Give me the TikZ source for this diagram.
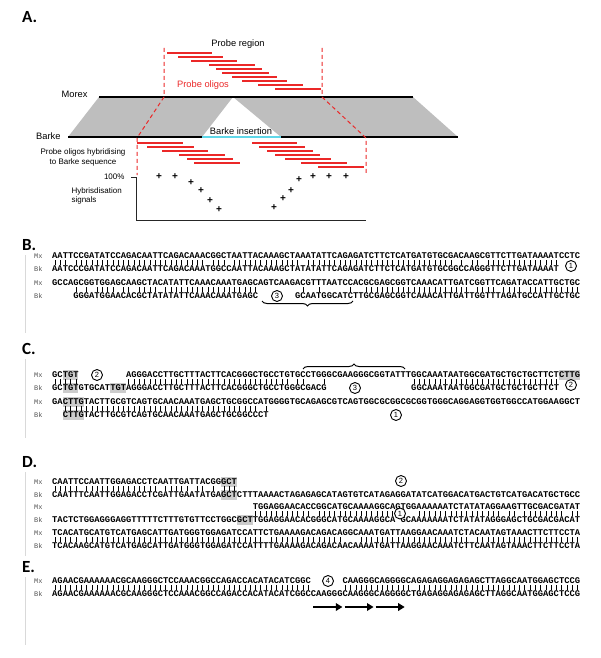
\documentclass[tikz,border=0pt]{standalone}
\usepackage{fontspec}
\setmainfont{Liberation Sans}
\newfontfamily\seqfont{Liberation Mono}
\newfontfamily\panelfont{Carlito}
\usetikzlibrary{arrows.meta,decorations.pathreplacing}
\definecolor{oligored}{RGB}{235,40,40}
\definecolor{bandgrey}{RGB}{190,190,190}
\definecolor{insertcyan}{RGB}{95,215,232}

\newcommand\matchbar{\vrule width 0.6pt height 2.6pt depth 2.6pt}
\ExplSyntaxOn
\str_new:N \l_dna_a_str
\str_new:N \l_dna_b_str
\NewDocumentCommand \dna { m }
  {
    \str_set:Nx \l_dna_a_str {#1}
    \str_map_inline:Nn \l_dna_a_str
      { \hbox_to_wd:nn { 5.28pt } { \hss \str_if_eq:nnF {##1} { . } {##1} \hss } }
  }
\NewDocumentCommand \pairbars { m m }
  {
    \str_set:Nx \l_dna_a_str {#1}
    \str_set:Nx \l_dna_b_str {#2}
    \int_step_inline:nn { \str_count:N \l_dna_a_str }
      {
        \hbox_to_wd:nn { 5.28pt }
          {
            \hss
            \bool_if:nT
              {
                \str_if_eq_p:ee { \str_item:Nn \l_dna_a_str {##1} } { \str_item:Nn \l_dna_b_str {##1} }
                && ! \str_if_eq_p:ee { \str_item:Nn \l_dna_a_str {##1} } { . }
              }
              { \matchbar }
            \hss
          }
      }
  }
\ExplSyntaxOff

\newcommand\bmxa{AATTCCGATATCCAGACAATTCAGACAAACGGCTAATTACAAAGCTAAATATTCAGAGATCTTCTCATGATGTGCGACAAGCGTTCTTGATAAAATCCTC}
\newcommand\bbka{AATCCCGATATCCAGACAATTCAGACAAATGGCCAATTACAAAGCTATATATTCAGAGATCTTCTCATGATGTGCGGCCAGGGTTCTTGATAAAAT}
\newcommand\bmxb{GCCAGCGGTGGAGCAAGCTACATATTCAAACAAATGAGCAGTCAAGACGTTTAATCCACGCGAGCGGTCAAACATTGATCGGTTCAGATACCATTGCTGC}
\newcommand\bbkb{....GGGATGGAACACGCTATATATTCAAACAAATGAGC.......GCAATGGCATCTTGCGAGCGGTCAAACATTGATTGGTTTAGATGCCATTGCTGC}
\newcommand\cmxa{GCTGT.........AGGGACCTTGCTTTACTTCACGGGCTGCCTGTGCCTGGGCGAAGGGCGGTATTTGGCAAATAATGGCGATGCTGCTGCTTCTCTTG}
\newcommand\cbka{GCTGTGTGCATTGTAGGGACCTTGCTTTACTTCACGGGCTGCCTGGGCGACG................GGCAAATAATGGCGATGCTGCTGCTTCT}
\newcommand\cmxb{GACTTGTACTTGCGTCAGTGCAACAAATGAGCTGCGGCCATGGGGTGCAGAGCGTCAGTGGCGCGGCGCGGTGGGCAGGAGGTGGTGGCCATGGAAGGCT}
\newcommand\cbkb{..CTTGTACTTGCGTCAGTGCAACAAATGAGCTGCGGCCCT}
\newcommand\dmxa{CAATTCCAATTGGAGACCTCAATTGATTACGGGCT}
\newcommand\dbka{CAATTTCAATTGGAGACCTCGATTGAATATGAGCTCTTTAAAACTAGAGAGCATAGTGTCATAGAGGATATCATGGACATGACTGTCATGACATGCTGCC}
\newcommand\dmxb{......................................TGGAGGAACACCGGCATGCAAAAGGCAGTGGAAAAAATCTATATAGGAAGTTGCGACGATAT}
\newcommand\dbkb{TACTCTGGAGGGAGGTTTTTCTTTGTGTTCCTGGCGCTTGGAGGAACACGGGCATGCAAAAGGCA.GCAAAAAAATCTATATAGGGAGCTGCGACGACAT}
\newcommand\dmxc{TCACATGCATGTCATGAGCATTGATGGGTGGAGATCCATTCTGAAAAGACAGACAGGCAAATGATTAAGGAACAAATCTACAATAGTAAACTTCTTCCTA}
\newcommand\dbkc{TCACAAGCATGTCATGAGCATTGATGGGTGGAGATCCATTTTGAAAAGACAGACAACAAAATGATTAAGGAACAAATCTTCAATAGTAAACTTCTTCCTA}
\newcommand\emxa{AGAACGAAAAAACGCAAGGGCTCCAAACGGCCAGACCACATACATCGGC......CAAGGGCAGGGGCAGAGAGGAGAGAGCTTAGGCAATGGAGCTCCG}
\newcommand\ebka{AGAACGAAAAAACGCAAGGGCTCCAAACGGCCAGACCACATACATCGGCCAAGGGCAAGGGCAGGGGCTGAGAGGAGAGAGCTTAGGCAATGGAGCTCCG}

\tikzset{
  seq/.style={anchor=west, inner sep=0pt, font=\seqfont\bfseries\fontsize{8.8}{10}\selectfont},
  rowlab/.style={anchor=west, inner sep=0pt, text=gray!65!black, font=\seqfont\fontsize{7}{8}\selectfont},
  panel/.style={anchor=west, inner sep=0pt, font=\panelfont\bfseries\fontsize{17}{18}\selectfont},
  circ/.style={circle, draw, line width=0.9pt, inner sep=0pt, minimum size=11pt, font=\fontsize{7.5}{7.5}\selectfont},
  oligo/.style={oligored, line width=2pt},
  guide/.style={oligored, line width=1pt, dash pattern=on 4pt off 3pt},
  genome/.style={line width=1.8pt},
  panelframe/.style={gray!30, line width=0.6pt},
  hl/.style={fill=gray!40},
  sign/.style={inner sep=0pt, font=\bfseries\fontsize{10}{10}\selectfont},
  repeatarrow/.style={line width=1.8pt, -{Triangle[length=6.5pt,width=7.5pt]}},
  atext/.style={font=\fontsize{9.3}{11}\selectfont},
  stext/.style={font=\fontsize{8}{9.5}\selectfont},
}

\begin{document}
\begin{tikzpicture}[x=1pt, y=-1pt]
  \useasboundingbox (0,0) rectangle (600,658);

  % panel A
  \node[panel] (la) at (22,17) {A.};
  \fill[bandgrey] (99,97) -- (233,97) -- (202,137) -- (68,137) -- cycle;
  \fill[bandgrey] (233,97) -- (413,97) -- (458,137) -- (281,137) -- cycle;
  \coordinate (mx0) at (99,97);
  \coordinate (mx1) at (413,97);
  \coordinate (bk0) at (68,137);
  \coordinate (bk1) at (458,137);
  \coordinate (ins0) at (202,137);
  \coordinate (ins1) at (281,137);
  \draw[genome] (mx0) -- (mx1);
  \draw[genome] (bk0) -- (bk1);
  \draw[genome, insertcyan] (ins0) -- (ins1);
  \node[atext, anchor=east] (morex) at (91,94) {Morex};
  \node[atext, anchor=east] (barke) at (64,136) {Barke};
  \node[atext] (insertion) at (241,131) {Barke insertion};
  \node[atext] (region) at (238,44) {Probe region};
  \node[atext, text=oligored] (oligos) at (203,85) {Probe oligos};
  \draw[guide] (164,48) -- (164,97) -- (137,138) -- (137,175);
  \draw[guide] (322,48) -- (322,97) -- (366,138) -- (366,174);
  \foreach \a/\b/\y in {167/212/53, 178/223/57, 191/237/61, 209/255/65, 216/262/69,
      222/269/73, 232/277/77, 242/287/81, 258/303/85, 275/321/89,
      137/183/143, 147/194/147, 162/208/151, 179/225/155, 187/233/159, 194/240/163,
      252/297/143, 259/305/147, 267/313/151, 275/320/155, 285/331/159, 301/347/163, 318/364/167}
    \draw[oligo] (\a,\y) -- (\b,\y);
  \node[stext, align=center] (hybprobe) at (83,157.5) {Probe oligos hybridising\\to Barke sequence};
  \node[stext, anchor=east] (full) at (128,177) {100\%};
  \node[stext, align=left, anchor=west] (signals) at (68,196) {Hybrisdisation\\signals};
  \coordinate (ytop) at (136,177);
  \coordinate (orig) at (136,220);
  \coordinate (xend) at (366,220);
  \draw[gray!30!black, line width=1pt] (131,177) -- (ytop) -- (orig) -- (xend);
  \foreach \x/\y [count=\i] in {159/177, 175/177, 191/183, 201/191, 210/201, 219/210,
      274/208, 283/199, 291/191, 299/180, 313/177, 329/177, 346/177}
    \node[sign] (s\i) at (\x,\y) {+};

  % panel B
  \node[panel] (lb) at (22,245) {B.};
  \draw[panelframe] (25,255) -- (25,333);
  \node[rowlab] (bmxl1) at (34,256) {Mx};
  \node[rowlab] (bbkl1) at (34,269) {Bk};
  \node[seq] (bmx1) at (52,256) {\dna{\bmxa}};
  \node[seq] (bbar1) at (52,262.5) {\pairbars{\bmxa}{\bbka}};
  \node[seq] (bbk1) at (52,269) {\dna{\bbka}};
  \node[circ] (bc1) at (571,266) {1};
  \node[rowlab] (bmxl2) at (34,283) {Mx};
  \node[rowlab] (bbkl2) at (34,296) {Bk};
  \node[seq] (bmx2) at (52,283) {\dna{\bmxb}};
  \node[seq] (bbar2) at (52,289.5) {\pairbars{\bmxb}{\bbkb}};
  \node[seq] (bbk2) at (52,296) {\dna{\bbkb}};
  \node[circ] (bc3) at (277,296) {3};
  \draw[line width=1pt, decorate, decoration={brace, amplitude=5pt, mirror}] (262,301) -- (353,301);

  % panel C
  \node[panel] (lc) at (22,349) {C.};
  \draw[panelframe] (25,359) -- (25,438);
  \fill[hl] ({52+5.28*2},370) rectangle ({52+5.28*5},380);
  \fill[hl] ({52+5.28*96},370) rectangle ({52+5.28*100},380);
  \fill[hl] ({52+5.28*2},383) rectangle ({52+5.28*5},393);
  \fill[hl] ({52+5.28*11},383) rectangle ({52+5.28*14},393);
  \fill[hl] ({52+5.28*2},397) rectangle ({52+5.28*6},407);
  \fill[hl] ({52+5.28*2},410) rectangle ({52+5.28*6},420);
  \draw[line width=1pt, decorate, decoration={brace, amplitude=5pt}] (303,369) -- (405,369);
  \node[rowlab] (cmxl1) at (34,375) {Mx};
  \node[rowlab] (cbkl1) at (34,388) {Bk};
  \node[seq] (cmx1) at (52,375) {\dna{\cmxa}};
  \node[seq] (cbar1) at (52,381.5) {\pairbars{\cmxa}{\cbka}};
  \node[seq] (cbk1) at (52,388) {\dna{\cbka}};
  \node[circ] (cc2a) at (97,375) {2};
  \node[circ] (cc3) at (355,388) {3};
  \node[circ] (cc2b) at (571,385) {2};
  \node[rowlab] (cmxl2) at (34,402) {Mx};
  \node[rowlab] (cbkl2) at (34,415) {Bk};
  \node[seq] (cmx2) at (52,402) {\dna{\cmxb}};
  \node[seq] (cbar2) at (52,408.5) {\pairbars{\cmxb}{\cbkb}};
  \node[seq] (cbk2) at (52,415) {\dna{\cbkb}};
  \node[circ] (cc1) at (396,415) {1};

  % panel D
  \node[panel] (ld) at (22,462) {D.};
  \draw[panelframe] (25,472) -- (25,556);
  \fill[hl] ({52+5.28*32},477) rectangle ({52+5.28*35},487);
  \fill[hl] ({52+5.28*32},490) rectangle ({52+5.28*35},500);
  \fill[hl] ({52+5.28*35},515) rectangle ({52+5.28*38},525);
  \node[rowlab] (dmxl1) at (34,482) {Mx};
  \node[rowlab] (dbkl1) at (34,495) {Bk};
  \node[seq] (dmx1) at (52,482) {\dna{\dmxa}};
  \node[seq] (dbar1) at (52,488.5) {\pairbars{\dmxa}{\dbka}};
  \node[seq] (dbk1) at (52,495) {\dna{\dbka}};
  \node[circ] (dc2) at (401,481) {2};
  \node[rowlab] (dmxl2) at (34,507) {Mx};
  \node[rowlab] (dbkl2) at (34,520) {Bk};
  \node[seq] (dmx2) at (52,507) {\dna{\dmxb}};
  \node[seq] (dbar2) at (52,513.5) {\pairbars{\dmxb}{\dbkb}};
  \node[seq] (dbk2) at (52,520) {\dna{\dbkb}};
  \node[circ, fill=white] (dc1) at (400,513.5) {1};
  \node[rowlab] (dmxl3) at (34,533) {Mx};
  \node[rowlab] (dbkl3) at (34,546) {Bk};
  \node[seq] (dmx3) at (52,533) {\dna{\dmxc}};
  \node[seq] (dbar3) at (52,539.5) {\pairbars{\dmxc}{\dbkc}};
  \node[seq] (dbk3) at (52,546) {\dna{\dbkc}};

  % panel E
  \node[panel] (le) at (22,567) {E.};
  \draw[panelframe] (25,577) -- (25,645);
  \node[rowlab] (emxl) at (34,581) {Mx};
  \node[rowlab] (ebkl) at (34,594) {Bk};
  \node[seq] (emx) at (52,581) {\dna{\emxa}};
  \node[seq] (ebar) at (52,587.5) {\pairbars{\emxa}{\ebka}};
  \node[seq] (ebk) at (52,594) {\dna{\ebka}};
  \node[circ] (ec4) at (328,581) {4};
  \foreach \a/\b [count=\i] in {49.5/55, 55.4/60.9, 61.3/66.8} {
    \coordinate (r\i a) at ({52+5.28*\a},607);
    \coordinate (r\i b) at ({52+5.28*\b},607);
    \draw[repeatarrow] (r\i a) -- (r\i b);
  }
\end{tikzpicture}
\end{document}
